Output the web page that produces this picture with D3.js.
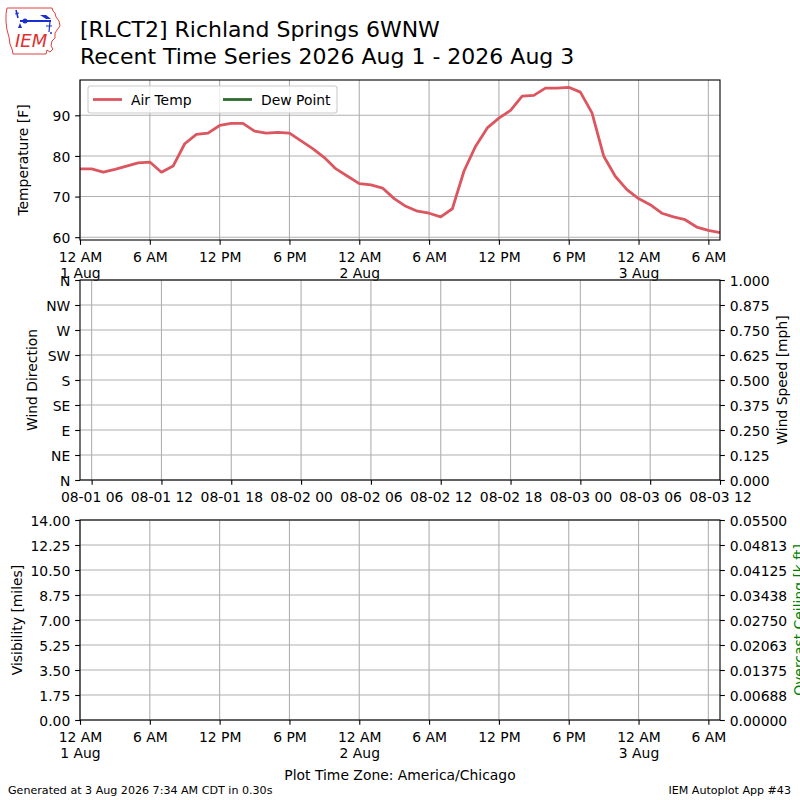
<!DOCTYPE html>
<html><head><meta charset="utf-8">
<script src="https://cdn.jsdelivr.net/npm/d3@7"></script>
<style>
body{margin:0;background:#fff}
svg{display:block}
text{font-family:"DejaVu Sans",sans-serif}
</style>
</head><body>
<svg id="c" width="800" height="800"></svg>
<script>
// ---------------- DATA ----------------
const obsTimes = [
"2026-08-01T00:00","2026-08-01T01:00","2026-08-01T02:00","2026-08-01T03:00","2026-08-01T04:00","2026-08-01T05:00",
"2026-08-01T06:00","2026-08-01T07:00","2026-08-01T08:00","2026-08-01T09:00","2026-08-01T10:00","2026-08-01T11:00",
"2026-08-01T12:00","2026-08-01T13:00","2026-08-01T14:00","2026-08-01T15:00","2026-08-01T16:00","2026-08-01T17:00",
"2026-08-01T18:00","2026-08-01T19:00","2026-08-01T20:00","2026-08-01T21:00","2026-08-01T22:00","2026-08-01T23:00",
"2026-08-02T00:00","2026-08-02T01:00","2026-08-02T02:00","2026-08-02T03:00","2026-08-02T04:00","2026-08-02T05:00",
"2026-08-02T06:00","2026-08-02T07:00","2026-08-02T08:00","2026-08-02T09:00","2026-08-02T10:00","2026-08-02T11:00",
"2026-08-02T12:00","2026-08-02T13:00","2026-08-02T14:00","2026-08-02T15:00","2026-08-02T16:00","2026-08-02T17:00",
"2026-08-02T18:00","2026-08-02T19:00","2026-08-02T20:00","2026-08-02T21:00","2026-08-02T22:00","2026-08-02T23:00",
"2026-08-03T00:00","2026-08-03T01:00","2026-08-03T02:00","2026-08-03T03:00","2026-08-03T04:00","2026-08-03T05:00",
"2026-08-03T06:00","2026-08-03T07:00"
];
const airTemp = [
76.8,76.8,76.0,76.7,77.5,78.3,
78.5,76.0,77.5,83.0,85.3,85.6,
87.5,88.0,88.0,86.1,85.6,85.8,
85.6,83.7,81.8,79.6,76.8,75.0,
73.2,72.9,72.1,69.5,67.6,66.4,
65.9,65.0,67.0,76.3,82.4,86.9,
89.3,91.2,94.7,94.9,96.7,96.7,
96.9,95.7,90.6,80.0,75.0,71.7,
69.5,68.0,65.9,65.0,64.3,62.5,
61.7,61.1
];
const dewPoint = [];   // no dew point observations
const seriesNames = ["Air Temp","Dew Point"];
const tempTicks = [60,70,80,90];
const dirTicks = [0,45,90,135,180,225,270,315,360];
const dirLabels = ["N","NE","E","SE","S","SW","W","NW","N"];
const speedTicks = [0,0.125,0.25,0.375,0.5,0.625,0.75,0.875,1.0];
const speedLabels = ["0.000","0.125","0.250","0.375","0.500","0.625","0.750","0.875","1.000"];
const visTicks = [0,1.75,3.5,5.25,7,8.75,10.5,12.25,14];
const visLabels = ["0.00","1.75","3.50","5.25","7.00","8.75","10.50","12.25","14.00"];
const ceilTicks = [0,0.006875,0.01375,0.020625,0.0275,0.034375,0.04125,0.048125,0.055];
const ceilLabels = ["0.00000","0.00688","0.01375","0.02063","0.02750","0.03438","0.04125","0.04813","0.05500"];
const utcOffsetHours = 5;   // CDT -> UTC for the wind panel axis

// ---------------- SETUP ----------------
const svg = d3.select("#c");
const FS = 13.9, TICK = 4.86, PAD = 4.86;
const GRID = "#b0b0b0";
const RED = "#dc5660", GREEN = "#2e6b2e";
const L = 80, R = 720;
const P1 = {top:80, bottom:240}, P2 = {top:280, bottom:480}, P3 = {top:520, bottom:720};

const parse = d3.utcParse("%Y-%m-%dT%H:%M");
const times = obsTimes.map(parse);
const data = times.map((t,i)=>({t, v: airTemp[i]}));

const x = d3.scaleUtc().domain(d3.extent(times)).range([L,R]);
const xUtc = d3.scaleUtc()
  .domain(x.domain().map(d=>d3.utcHour.offset(d, utcOffsetHours)))
  .range([L,R]);

const tMin = d3.min(airTemp), tMax = d3.max(airTemp), tPad = (tMax-tMin)*0.05;
const yT = d3.scaleLinear().domain([tMin-tPad, tMax+tPad]).range([P1.bottom,P1.top]);
const yDir = d3.scaleLinear().domain([0,360]).range([P2.bottom,P2.top]);
const ySpd = d3.scaleLinear().domain([0,1]).range([P2.bottom,P2.top]);
const yVis = d3.scaleLinear().domain([0,14]).range([P3.bottom,P3.top]);
const yCeil = d3.scaleLinear().domain([0,0.055]).range([P3.bottom,P3.top]);

const sixHourTicks = x.ticks(d3.utcHour.every(6));
const sixHourTicksUtc = xUtc.ticks(d3.utcHour.every(6));

function hourLabel(d){
  const h = d.getUTCHours();
  const h12 = h%12===0 ? 12 : h%12;
  return h12 + (h<12 ? " AM" : " PM");
}
const dayFmt = d3.utcFormat("%-d %b");
const utcFmt = d3.utcFormat("%m-%d %H");

function grid(p, xs, xscale, ys, yscale){
  const g = svg.append("g");
  g.selectAll(".vx").data(xs).join("line")
    .attr("x1",d=>xscale(d)).attr("x2",d=>xscale(d))
    .attr("y1",p.top).attr("y2",p.bottom)
    .attr("stroke",GRID).attr("stroke-width",1.1);
  g.selectAll(".hy").data(ys).join("line")
    .attr("x1",L).attr("x2",R)
    .attr("y1",d=>yscale(d)).attr("y2",d=>yscale(d))
    .attr("stroke",GRID).attr("stroke-width",1.1);
}
function frame(p){
  svg.append("rect").attr("x",L).attr("y",p.top).attr("width",R-L).attr("height",p.bottom-p.top)
    .attr("fill","none").attr("stroke","#000").attr("stroke-width",1.1);
}
function styleAxis(g){
  g.select(".domain").remove();
  g.attr("font-family",null).attr("font-size",null);
  g.selectAll("line").attr("stroke","#000").attr("stroke-width",1.1);
  g.selectAll("text").attr("font-size",FS).attr("fill","#000");
}
function leftAxis(scale, vals, labels){
  const g = svg.append("g").attr("transform",`translate(${L},0)`)
    .call(d3.axisLeft(scale).tickValues(vals).tickFormat((d,i)=>labels[i]).tickSize(TICK).tickPadding(PAD).tickSizeOuter(0));
  styleAxis(g); g.selectAll("text").attr("dy","0.37em");
}
function rightAxis(scale, vals, labels){
  const g = svg.append("g").attr("transform",`translate(${R},0)`)
    .call(d3.axisRight(scale).tickValues(vals).tickFormat((d,i)=>labels[i]).tickSize(TICK).tickPadding(PAD).tickSizeOuter(0));
  styleAxis(g); g.selectAll("text").attr("dy","0.37em");
}
function timeAxis(p){
  const g = svg.append("g").attr("transform",`translate(0,${p.bottom})`)
    .call(d3.axisBottom(x).tickValues(sixHourTicks).tickFormat(()=>"").tickSize(TICK).tickPadding(PAD).tickSizeOuter(0));
  styleAxis(g);
  g.selectAll(".tick").each(function(d){
    const t = d3.select(this).select("text").text(null).attr("dy",null).attr("y",TICK+PAD);
    t.append("tspan").attr("x",0).attr("dy","0.88em").text(hourLabel(d));
    if (d.getUTCHours()===0) t.append("tspan").attr("x",0).attr("dy","1.19em").text(dayFmt(d));
  });
}
function ylabel(txt, xpos, p, color){
  svg.append("text").attr("transform",`translate(${xpos},${(p.top+p.bottom)/2}) rotate(-90)`)
    .attr("text-anchor","middle").attr("font-size",FS).attr("fill",color||"#000").text(txt);
}

// ---------------- PANEL 1: temperature ----------------
grid(P1, sixHourTicks, x, tempTicks, yT);
const line = d3.line().x(d=>x(d.t)).y(d=>yT(d.v));
svg.append("path").datum(data).attr("d",line).attr("fill","none")
  .attr("stroke",RED).attr("stroke-width",2.8).attr("stroke-linejoin","round");
frame(P1);
leftAxis(yT, tempTicks, tempTicks.map(String));
timeAxis(P1);
ylabel("Temperature [F]", 28, P1);

// legend
const lg = svg.append("g");
lg.append("rect").attr("x",88).attr("y",86).attr("width",249).attr("height",27).attr("rx",2.5)
  .attr("fill","#fff").attr("fill-opacity",0.8).attr("stroke","#cccccc").attr("stroke-width",1.1);
const legendItems = [{name:seriesNames[0], color:RED, x0:93},{name:seriesNames[1], color:GREEN, x0:223}];
legendItems.forEach(it=>{
  lg.append("line").attr("x1",it.x0).attr("x2",it.x0+29).attr("y1",99.5).attr("y2",99.5)
    .attr("stroke",it.color).attr("stroke-width",2.8);
  lg.append("text").attr("x",it.x0+38).attr("y",104.5).attr("font-size",FS).text(it.name);
});

// ---------------- PANEL 2: wind ----------------
grid(P2, sixHourTicksUtc, xUtc, dirTicks, yDir);
frame(P2);
leftAxis(yDir, dirTicks, dirLabels);
rightAxis(ySpd, speedTicks, speedLabels);
{
  const g = svg.append("g").attr("transform",`translate(0,${P2.bottom})`)
    .call(d3.axisBottom(xUtc).tickValues(sixHourTicksUtc).tickFormat(utcFmt).tickSize(TICK).tickPadding(PAD).tickSizeOuter(0));
  styleAxis(g); g.selectAll("text").attr("dy","0.88em");
}
ylabel("Wind Direction", 37, P2);
ylabel("Wind Speed [mph]", 787, P2);

// ---------------- PANEL 3: visibility / ceiling ----------------
grid(P3, sixHourTicks, x, visTicks, yVis);
frame(P3);
leftAxis(yVis, visTicks, visLabels);
rightAxis(yCeil, ceilTicks, ceilLabels);
timeAxis(P3);
ylabel("Visibility [miles]", 22, P3);
ylabel("Overcast Ceiling [k ft]", 803.5, P3, "#008000");

svg.append("text").attr("x",400).attr("y",780).attr("text-anchor","middle").attr("font-size",FS)
  .text("Plot Time Zone: America/Chicago");

// ---------------- titles / footer ----------------
svg.append("text").attr("x",80).attr("y",37).attr("font-size",22).text("[RLCT2] Richland Springs 6WNW");
svg.append("text").attr("x",80).attr("y",63.5).attr("font-size",22).text("Recent Time Series 2026 Aug 1 - 2026 Aug 3");
svg.append("text").attr("x",8).attr("y",794).attr("font-size",11.1).text("Generated at 3 Aug 2026 7:34 AM CDT in 0.30s");
svg.append("text").attr("x",791).attr("y",794).attr("text-anchor","end").attr("font-size",11.1).text("IEM Autoplot App #43");

// ---------------- logo ----------------
const logo = svg.append("g");
logo.append("path")
  .attr("d","M7,8 L52,8 L53,11 L55,13 L56,17 L59,21 L60,26 L57,30 L55,33 L55,38 L52,41 L51,46 L53,49 L50,52 L47,50 L46,54 L13,54 L12,49 L10,44 L9,37 L7,30 L6,22 L6,14 Z")
  .attr("fill","none").attr("stroke","#e04040").attr("stroke-width",1);
const B = "#1a2fd0";
logo.append("line").attr("x1",16).attr("y1",10).attr("x2",18).attr("y2",18).attr("stroke",B).attr("stroke-width",1.5);
logo.append("line").attr("x1",15).attr("y1",14).attr("x2",19).attr("y2",13).attr("stroke",B).attr("stroke-width",1);
logo.append("path").attr("d","M18,28 L20,23 L22,28 Z").attr("fill",B);
logo.append("line").attr("x1",20).attr("y1",21).attr("x2",51).attr("y2",21).attr("stroke",B).attr("stroke-width",2);
logo.append("circle").attr("cx",25).attr("cy",21).attr("r",2.5).attr("fill",B);
logo.append("path").attr("d","M40,15 L46,15 L51,19 L46,19 Z").attr("fill",B);
logo.append("line").attr("x1",50).attr("y1",21).attr("x2",49).attr("y2",32).attr("stroke",B).attr("stroke-width",1.2);
logo.append("line").attr("x1",46).attr("y1",26).attr("x2",52).attr("y2",26).attr("stroke",B).attr("stroke-width",1);
logo.append("circle").attr("cx",51).attr("cy",33).attr("r",1).attr("fill",B);
logo.append("text").attr("x",15).attr("y",47).attr("font-family","Liberation Serif, serif").attr("font-style","italic")
  .attr("font-size",18).attr("fill","#e03030").text("IEM");
</script>
</body></html>
